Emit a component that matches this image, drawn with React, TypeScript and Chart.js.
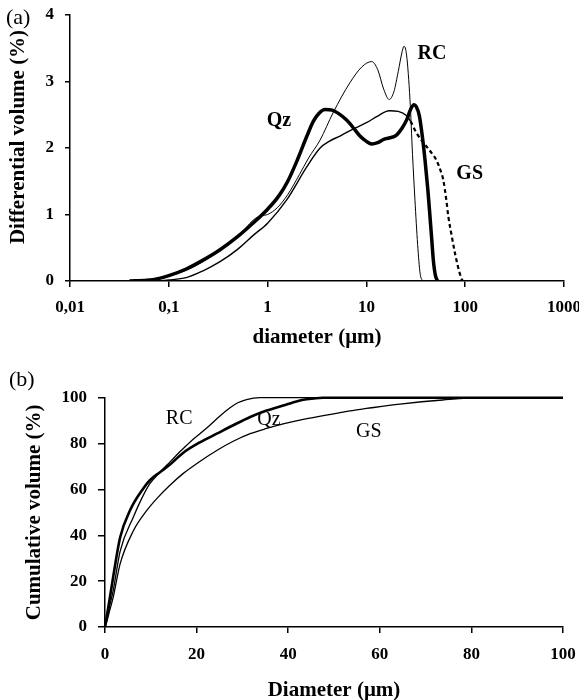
import React, { useEffect, useRef } from 'react';
import { Chart, registerables } from 'chart.js';
Chart.register(...registerables);

const FONT = '"Liberation Serif", "Times New Roman", Times, serif';

// ---------- (a) differential volume ----------
const qzDiffD = [0.04, 0.06, 0.08, 0.1, 0.15, 0.22, 0.33, 0.5, 0.7, 1.0, 1.3, 1.6, 2.0, 2.5, 2.9, 3.3, 3.8, 4.5, 5.2, 6.3, 7.5, 8.6, 10, 11.3, 13, 15, 17, 20, 23, 25.7, 28, 30.3, 32, 34.4, 37, 39.2, 42, 44, 46, 47.6, 50, 52.5];
const qzDiffV = [0, 0.01, 0.04, 0.08, 0.18, 0.31, 0.47, 0.67, 0.86, 1.08, 1.28, 1.5, 1.82, 2.18, 2.40, 2.52, 2.58, 2.57, 2.52, 2.42, 2.29, 2.18, 2.10, 2.06, 2.08, 2.13, 2.15, 2.19, 2.30, 2.43, 2.58, 2.65, 2.62, 2.48, 2.15, 1.82, 1.35, 0.97, 0.60, 0.31, 0.08, 0];

const rcDiffD = [0.04, 0.06, 0.08, 0.1, 0.15, 0.22, 0.33, 0.5, 0.72, 0.85, 1.0, 1.25, 1.6, 2.1, 2.6, 3.4, 4.6, 6.8, 9.0, 11.3, 13, 15, 17, 19, 21, 23, 24, 25.5, 27.6, 29.3, 31, 33, 35, 37];
const rcDiffV = [0, 0.01, 0.03, 0.07, 0.16, 0.29, 0.46, 0.66, 0.92, 0.98, 1.0, 1.1, 1.3, 1.6, 1.85, 2.12, 2.53, 2.98, 3.22, 3.30, 3.18, 2.88, 2.73, 2.85, 3.15, 3.45, 3.53, 3.40, 2.73, 1.9, 1.22, 0.55, 0.11, 0];

const gsDiffD = [0.05, 0.08, 0.1, 0.15, 0.22, 0.33, 0.5, 0.72, 1.0, 1.56, 2.5, 3.4, 4.2, 5.4, 7, 10, 13, 17, 21, 25.7, 28, 32, 36, 40.7, 46, 51, 56, 60, 64, 67.5, 73, 79, 85, 92, 95];
const gsDiffV = [0, 0.005, 0.015, 0.05, 0.15, 0.29, 0.48, 0.69, 0.87, 1.22, 1.72, 2.0, 2.1, 2.18, 2.27, 2.38, 2.48, 2.56, 2.55, 2.48, 2.4, 2.23, 2.12, 2.02, 1.92, 1.82, 1.67, 1.52, 1.25, 0.97, 0.68, 0.41, 0.2, 0.03, 0];

const logTicks = [0.01, 0.1, 1, 10, 100, 1000];
const logTickLabels = ['0,01', '0,1', '1', '10', '100', '1000'];
const diffTicks = [0, 1, 2, 3, 4];

// ---------- (b) cumulative volume ----------
const qzCumD = [0, 0.5, 1, 1.8, 3.3, 5.5, 8.4, 9.8, 12, 14, 17.1, 20.7, 24.4, 28, 31.7, 35.3, 38.9, 42, 44, 47.6, 100];
const qzCumV = [0, 6, 12, 22, 39, 51, 60.5, 64, 67.5, 70.5, 76, 80.5, 84.3, 88, 91.6, 94.4, 96.6, 98.5, 99.3, 100, 100];

const rcCumD = [0, 0.5, 1, 1.8, 3.3, 6.2, 8, 9.8, 12, 14.2, 16.4, 18.6, 20.8, 22.9, 25.1, 27.3, 29, 30.9, 33.8, 100];
const rcCumV = [0, 4, 9, 16, 33, 48, 56, 62.5, 67.5, 72, 76.5, 80.7, 84.4, 88, 92, 95.6, 97.8, 99.2, 100, 100];

const gsCumD = [0, 0.5, 1, 1.8, 3.3, 6.2, 9, 11.3, 14, 17.1, 20.7, 24.4, 28, 31.7, 35.3, 38.9, 42, 46.2, 53.5, 57.1, 64.4, 73.7, 82, 100];
const gsCumV = [0, 3, 7, 13, 27.5, 42, 50.5, 56, 61.5, 67, 72.2, 77, 81, 84.3, 86.6, 88.6, 90, 91.6, 94.3, 95.3, 97.2, 99, 100, 100];

const cumTicks = [0, 20, 40, 60, 80, 100];

// series labels (data coordinates)
const diffLabels = [
  { text: 'RC', x: 46, y: 3.41 },
  { text: 'Qz', x: 1.3, y: 2.41 },
  { text: 'GS', x: 111, y: 1.61 },
];
const cumLabels = [
  { text: 'RC', x: 16.2, y: 91 },
  { text: 'Qz', x: 35.8, y: 90.6 },
  { text: 'GS', x: 57.6, y: 85.3 },
];

const zip = (xs: number[], ys: number[]) => xs.map((x, i) => ({ x, y: ys[i] }));

function annotPlugin(
  labels: { text: string; x: number; y: number }[],
  labelFont: string,
  panel: { text: string; px: number; py: number },
  yTitle?: { text: string; px: number; py: number }
) {
  return {
    id: 'annot',
    afterDatasetsDraw(chart: any) {
      const { ctx, scales } = chart;
      ctx.save();
      ctx.fillStyle = '#000';
      ctx.textAlign = 'center';
      ctx.textBaseline = 'middle';
      ctx.font = labelFont;
      labels.forEach((l) => {
        ctx.fillText(l.text, scales.x.getPixelForValue(l.x), scales.y.getPixelForValue(l.y));
      });
      ctx.textAlign = 'left';
      ctx.font = `22px ${FONT}`;
      ctx.fillText(panel.text, panel.px, panel.py);
      if (yTitle) {
        ctx.save();
        ctx.translate(yTitle.px, yTitle.py);
        ctx.rotate(-Math.PI / 2);
        ctx.textAlign = 'center';
        ctx.font = `bold 21px ${FONT}`;
        ctx.fillText(yTitle.text, 0, 0);
        ctx.restore();
      }
      ctx.restore();
    },
  };
}

const tickFont = { family: FONT, size: 17, weight: 'bold' as const };
const titleFont = { family: FONT, size: 21, weight: 'bold' as const, lineHeight: 1 };
const gridOpts = { drawOnChartArea: false, drawTicks: true, tickLength: 6, color: '#000', lineWidth: 1.5 };
const borderOpts = { color: '#000', width: 1.5 };

export default function App() {
  const ref1 = useRef<HTMLCanvasElement>(null);
  const ref2 = useRef<HTMLCanvasElement>(null);

  useEffect(() => {
    const c1 = new Chart(ref1.current as HTMLCanvasElement, {
      type: 'line',
      data: {
        datasets: [
          {
            label: 'GS',
            data: zip(gsDiffD, gsDiffV),
            borderColor: '#000',
            borderWidth: 1.4,
            cubicInterpolationMode: 'monotone',
            pointRadius: 0,
            segment: {
              borderDash: (ctx: any) => (ctx.p0.parsed.x >= 27 ? [4, 3] : undefined),
              borderWidth: (ctx: any) => (ctx.p0.parsed.x >= 27 ? 2.2 : undefined),
            },
          } as any,
          {
            label: 'RC',
            data: zip(rcDiffD, rcDiffV),
            borderColor: '#000',
            borderWidth: 1,
            cubicInterpolationMode: 'monotone',
            pointRadius: 0,
          },
          {
            label: 'Qz',
            data: zip(qzDiffD, qzDiffV),
            borderColor: '#000',
            borderWidth: 3.5,
            cubicInterpolationMode: 'monotone',
            pointRadius: 0,
          },
        ],
      },
      options: {
        responsive: false,
        animation: false,
        layout: { padding: { top: 15, right: 15, left: 0, bottom: 0 } },
        plugins: { legend: { display: false }, tooltip: { enabled: false } },
        scales: {
          x: {
            type: 'logarithmic',
            min: 0.01,
            max: 1000,
            afterBuildTicks: (s: any) => {
              s.ticks = logTicks.map((v) => ({ value: v }));
            },
            afterFit: (s: any) => {
              s.height = 71;
              s.paddingLeft = 0;
              s.paddingRight = 0;
            },
            ticks: {
              callback: (v: any) => {
                const i = logTicks.findIndex((t) => Math.abs(t - Number(v)) < 1e-9);
                return i >= 0 ? logTickLabels[i] : '';
              },
              font: tickFont,
              color: '#000',
              padding: 10,
              maxRotation: 0,
              autoSkip: false,
            },
            grid: gridOpts,
            border: borderOpts,
            title: { display: true, text: 'diameter (μm)', font: titleFont, color: '#000', padding: { top: 0, bottom: 4 } },
          },
          y: {
            min: 0,
            max: 4,
            afterBuildTicks: (s: any) => {
              s.ticks = diffTicks.map((v) => ({ value: v }));
            },
            afterFit: (s: any) => {
              s.width = 70;
              s.paddingTop = 0;
              s.paddingBottom = 0;
            },
            ticks: { font: tickFont, color: '#000', padding: 11 },
            grid: { ...gridOpts, tickLength: 5 },
            border: borderOpts,
            title: { display: false },
          },
        },
      } as any,
      plugins: [
        annotPlugin(diffLabels, `bold 20px ${FONT}`, { text: '(a)', px: 6, py: 18 }, { text: 'Differential volume (%)', px: 19, py: 137 }),
      ],
    });

    const c2 = new Chart(ref2.current as HTMLCanvasElement, {
      type: 'line',
      data: {
        datasets: [
          { label: 'GS', data: zip(gsCumD, gsCumV), borderColor: '#000', borderWidth: 1.3, cubicInterpolationMode: 'monotone', pointRadius: 0, clip: false } as any,
          { label: 'RC', data: zip(rcCumD, rcCumV), borderColor: '#000', borderWidth: 1.3, cubicInterpolationMode: 'monotone', pointRadius: 0, clip: false } as any,
          { label: 'Qz', data: zip(qzCumD, qzCumV), borderColor: '#000', borderWidth: 2.6, cubicInterpolationMode: 'monotone', pointRadius: 0, clip: false } as any,
        ],
      },
      options: {
        responsive: false,
        animation: false,
        layout: { padding: { top: 45.7, right: 16, left: 0, bottom: 0 } },
        plugins: { legend: { display: false }, tooltip: { enabled: false } },
        scales: {
          x: {
            type: 'linear',
            min: 0,
            max: 100,
            afterBuildTicks: (s: any) => {
              s.ticks = cumTicks.map((v) => ({ value: v }));
            },
            afterFit: (s: any) => {
              s.height = 73;
              s.paddingLeft = 0;
              s.paddingRight = 0;
            },
            ticks: { font: tickFont, color: '#000', padding: 11, maxRotation: 0, autoSkip: false },
            grid: gridOpts,
            border: borderOpts,
            title: { display: true, text: 'Diameter (μm)', font: titleFont, color: '#000', padding: { top: 0, bottom: -1 } },
          },
          y: {
            min: 0,
            max: 100,
            afterBuildTicks: (s: any) => {
              s.ticks = cumTicks.map((v) => ({ value: v }));
            },
            afterFit: (s: any) => {
              s.width = 105;
              s.paddingTop = 0;
              s.paddingBottom = 0;
            },
            ticks: { font: tickFont, color: '#000', padding: 11 },
            grid: { ...gridOpts, tickLength: 7 },
            border: borderOpts,
            title: { display: true, text: 'Cumulative volume (%)', font: titleFont, color: '#000', padding: { top: 24.5, bottom: 0 } },
          },
        },
      } as any,
      plugins: [annotPlugin(cumLabels, `20px ${FONT}`, { text: '(b)', px: 9, py: 28 })],
    });

    return () => {
      c1.destroy();
      c2.destroy();
    };
  }, []);

  return (
    <div style={{ position: 'absolute', left: 0, top: 0, width: 579, height: 700, background: '#fff' }}>
      <canvas ref={ref1} width={579} height={352} style={{ display: 'block', width: 579, height: 352 }} />
      <canvas ref={ref2} width={579} height={348} style={{ display: 'block', width: 579, height: 348 }} />
    </div>
  );
}
